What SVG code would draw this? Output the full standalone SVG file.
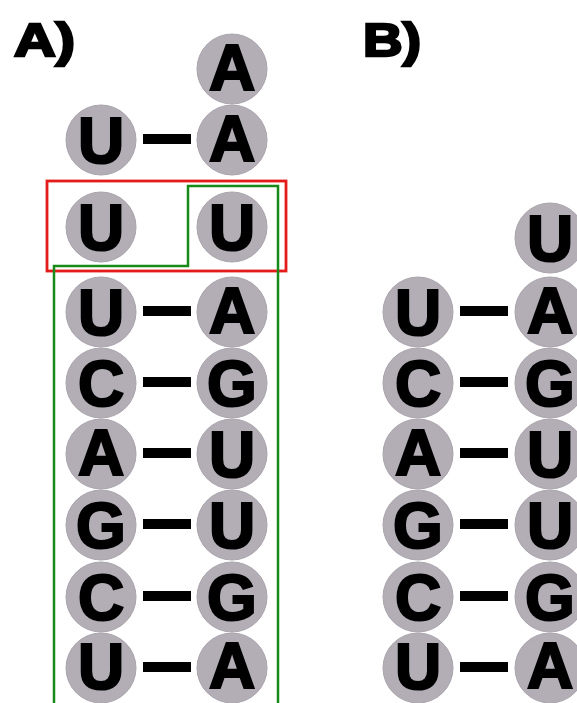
<svg xmlns="http://www.w3.org/2000/svg" width="577" height="703" viewBox="0 0 577 703">
<style>
.nc{fill:#b3adb6;stroke:#a9a3ac;stroke-width:1}
.nt{font-family:"Liberation Sans",Arial,sans-serif;font-weight:bold;font-size:64px;fill:#000;stroke:#000;stroke-width:2.2;text-anchor:middle}
.lbl{font-family:"Liberation Sans",Arial,sans-serif;font-weight:bold;font-size:46px;fill:#000;stroke:#000;stroke-width:2.4}
.bond{stroke:#000;stroke-width:10;fill:none}
</style>
<rect width="577" height="703" fill="#fff"/>
<text class="lbl" x="14" y="56" textLength="61" lengthAdjust="spacingAndGlyphs">A)</text>
<text class="lbl" x="363" y="56" textLength="58" lengthAdjust="spacingAndGlyphs">B)</text>
<g id="connectors">
<line class="bond" x1="143" y1="139" x2="191" y2="139"/>
<line class="bond" x1="143" y1="311" x2="191" y2="311"/>
<line class="bond" x1="143" y1="382" x2="191" y2="382"/>
<line class="bond" x1="143" y1="453" x2="191" y2="453"/>
<line class="bond" x1="143" y1="524" x2="191" y2="524"/>
<line class="bond" x1="143" y1="596" x2="191" y2="596"/>
<line class="bond" x1="143" y1="667" x2="191" y2="667"/>
<line class="bond" x1="460" y1="311" x2="508" y2="311"/>
<line class="bond" x1="460" y1="382" x2="508" y2="382"/>
<line class="bond" x1="460" y1="453" x2="508" y2="453"/>
<line class="bond" x1="460" y1="524" x2="508" y2="524"/>
<line class="bond" x1="460" y1="596" x2="508" y2="596"/>
<line class="bond" x1="460" y1="667" x2="508" y2="667"/>
</g>
<g id="a-top-A"><circle class="nc" cx="232" cy="69" r="35"/><text class="nt" x="232" y="90">A</text></g>
<g id="a-r2-U"><circle class="nc" cx="101" cy="140" r="35"/><text class="nt" x="101" y="163">U</text></g>
<g id="a-r2-A"><circle class="nc" cx="232" cy="140" r="35"/><text class="nt" x="232" y="161">A</text></g>
<g id="a-r3-U1"><circle class="nc" cx="101" cy="227" r="35"/><text class="nt" x="101" y="250">U</text></g>
<g id="a-r3-U2"><circle class="nc" cx="232" cy="227" r="35"/><text class="nt" x="232" y="250">U</text></g>
<g id="a-r4-U"><circle class="nc" cx="101" cy="312" r="35"/><text class="nt" x="101" y="335">U</text></g>
<g id="a-r4-A"><circle class="nc" cx="232" cy="312" r="35"/><text class="nt" x="232" y="333">A</text></g>
<g id="a-r5-C"><circle class="nc" cx="101" cy="383" r="35"/><text class="nt" x="101" y="406">C</text></g>
<g id="a-r5-G"><circle class="nc" cx="232" cy="383" r="35"/><text class="nt" x="232" y="406">G</text></g>
<g id="a-r6-A"><circle class="nc" cx="101" cy="454" r="35"/><text class="nt" x="101" y="475">A</text></g>
<g id="a-r6-U"><circle class="nc" cx="232" cy="454" r="35"/><text class="nt" x="232" y="477">U</text></g>
<g id="a-r7-G"><circle class="nc" cx="101" cy="525" r="35"/><text class="nt" x="101" y="548">G</text></g>
<g id="a-r7-U"><circle class="nc" cx="232" cy="525" r="35"/><text class="nt" x="232" y="548">U</text></g>
<g id="a-r8-C"><circle class="nc" cx="101" cy="597" r="35"/><text class="nt" x="101" y="620">C</text></g>
<g id="a-r8-G"><circle class="nc" cx="232" cy="597" r="35"/><text class="nt" x="232" y="620">G</text></g>
<g id="a-r9-U"><circle class="nc" cx="101" cy="668" r="35"/><text class="nt" x="101" y="689">U</text></g>
<g id="a-r9-A"><circle class="nc" cx="232" cy="668" r="35"/><text class="nt" x="232" y="688">A</text></g>
<g id="b-top-U"><circle class="nc" cx="550" cy="238" r="35"/><text class="nt" x="550" y="261">U</text></g>
<g id="b-r1-U"><circle class="nc" cx="418" cy="312" r="35"/><text class="nt" x="418" y="335">U</text></g>
<g id="b-r1-A"><circle class="nc" cx="550" cy="312" r="35"/><text class="nt" x="550" y="333">A</text></g>
<g id="b-r2-C"><circle class="nc" cx="418" cy="383" r="35"/><text class="nt" x="418" y="406">C</text></g>
<g id="b-r2-G"><circle class="nc" cx="550" cy="383" r="35"/><text class="nt" x="550" y="406">G</text></g>
<g id="b-r3-A"><circle class="nc" cx="418" cy="454" r="35"/><text class="nt" x="418" y="475">A</text></g>
<g id="b-r3-U"><circle class="nc" cx="550" cy="454" r="35"/><text class="nt" x="550" y="477">U</text></g>
<g id="b-r4-G"><circle class="nc" cx="418" cy="525" r="35"/><text class="nt" x="418" y="548">G</text></g>
<g id="b-r4-U"><circle class="nc" cx="550" cy="525" r="35"/><text class="nt" x="550" y="548">U</text></g>
<g id="b-r5-C"><circle class="nc" cx="418" cy="597" r="35"/><text class="nt" x="418" y="620">C</text></g>
<g id="b-r5-G"><circle class="nc" cx="550" cy="597" r="35"/><text class="nt" x="550" y="620">G</text></g>
<g id="b-r6-U"><circle class="nc" cx="418" cy="668" r="35"/><text class="nt" x="418" y="689">U</text></g>
<g id="b-r6-A"><circle class="nc" cx="550" cy="668" r="35"/><text class="nt" x="550" y="688">A</text></g>
<g id="highlights">
<rect x="47" y="181" width="239" height="90" fill="none" stroke="#e41b1b" stroke-width="2.8"/>
<path d="M54,705 V266 H188 V186 H278 V705" fill="none" stroke="#178a17" stroke-width="2.5"/>
</g>
</svg>
